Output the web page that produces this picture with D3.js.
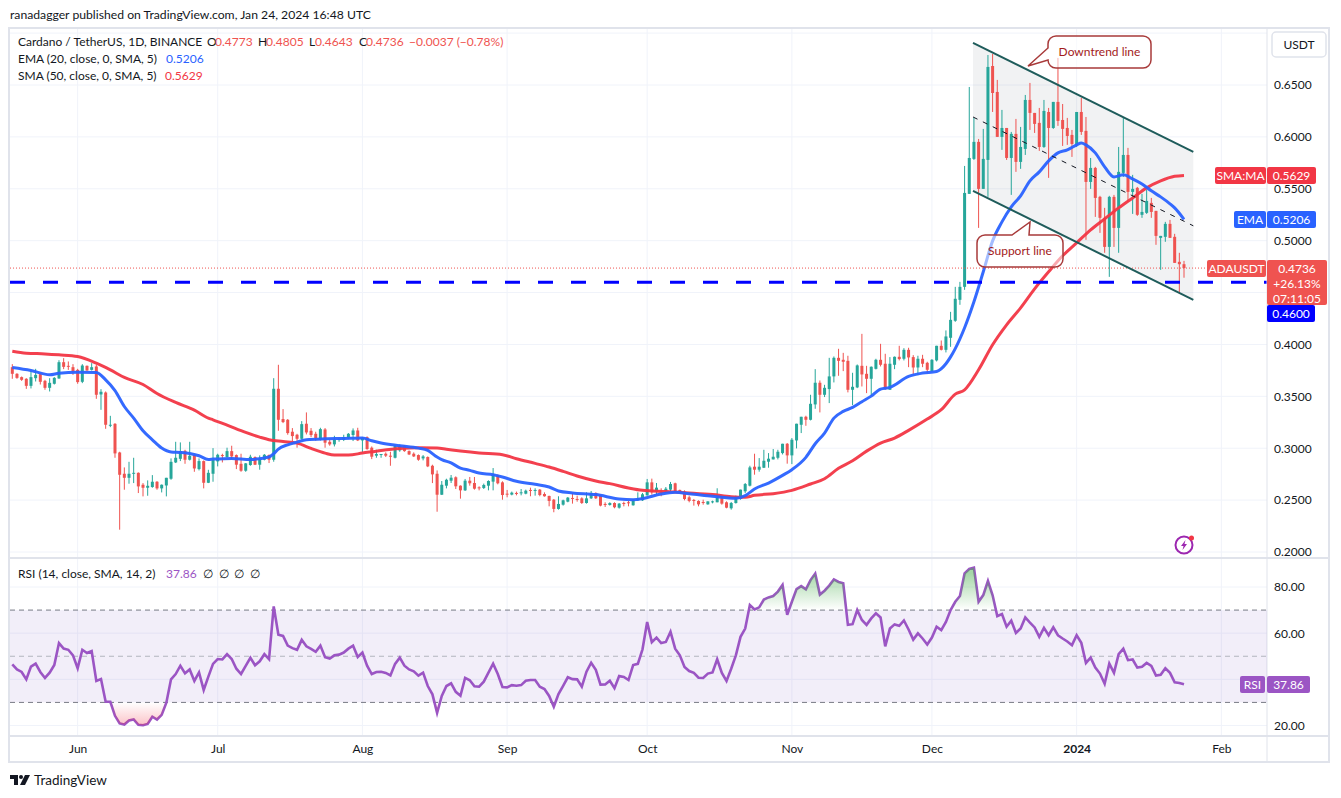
<!DOCTYPE html>
<html>
<head>
<meta charset="utf-8">
<script src="https://d3js.org/d3.v7.min.js"></script>
<style>
body { margin: 0; background: #fff; }
text { font-family: Lato, "Noto Sans", sans-serif; font-size: 12px; fill: #131722; }
</style>
</head>
<body>
<svg class="chart" width="1341" height="798"></svg>
<script>

// daily candles, May 18 2023 (number 1) to Jan 24 2024 (number 252)
const opens = [
  .3781,.3717,.3685,.3669,.3601,.3675,.3714,.3649,.3582,.3621,.3672,.3829,.3794,.3781,.3755,.3640,.3794,.3755,.3788,.3518,
  .3537,.3219,.3235,.2959,.2754,.2715,.2757,.2763,.2648,.2619,.2626,.2677,.2613,.2641,.2706,.2863,.2898,.2975,.2889,.2934,
  .2799,.2876,.2667,.2754,.2873,.2934,.2915,.2972,.2934,.2850,.2783,.2838,.2915,.2841,.2889,.2934,.2889,.3573,.3281,.3274,
  .3159,.3130,.3091,.3236,.3168,.3139,.3082,.3181,.3062,.3037,.3082,.3082,.3101,.3127,.3171,.3075,.3107,.3005,.2928,.2937,
  .2947,.2928,.2908,.2979,.3024,.2972,.2947,.2934,.2902,.2915,.2831,.2754,.2552,.2639,.2687,.2720,.2639,.2594,.2687,.2665,
  .2623,.2617,.2639,.2678,.2736,.2671,.2562,.2553,.2569,.2566,.2562,.2598,.2591,.2601,.2559,.2540,.2504,.2415,.2456,.2485,
  .2521,.2511,.2517,.2472,.2517,.2569,.2546,.2463,.2453,.2472,.2427,.2472,.2479,.2450,.2498,.2498,.2546,.2671,.2582,.2582,
  .2588,.2601,.2662,.2598,.2582,.2527,.2501,.2492,.2482,.2459,.2479,.2479,.2530,.2479,.2421,.2472,.2511,.2585,.2639,.2822,
  .2793,.2812,.2870,.2892,.2908,.2953,.3043,.2931,.3075,.3226,.3303,.3274,.3422,.3631,.3515,.3570,.3692,.3871,.3852,.3842,
  .3563,.3586,.3794,.3717,.3669,.3765,.3852,.3814,.3563,.3804,.3881,.3862,.3948,.3878,.3778,.3862,.3823,.3743,.3846,.3987,
  .3948,.4064,.4228,.4430,.4555,.5451,.5788,.5952,.5499,.5778,.6683,.6433,.6000,.6086,.5797,.6029,.5759,.5884,.6356,.6231,
  .6135,.5903,.6240,.6086,.6337,.6163,.6086,.6019,.5923,.6240,.6058,.5566,.5701,.5422,.5220,.4940,.5422,.5123,.5653,.5826,
  .5470,.5509,.5249,.5268,.5364,.5287,.5027,.5037,.5162,.5037,.4796,.4773]
const highs = [
  .3810,.3723,.3691,.3675,.3749,.3765,.3723,.3659,.3675,.3685,.3848,.3868,.3836,.3810,.3765,.3810,.3797,.3820,.3804,.3569,
  .3547,.3312,.3242,.2966,.2815,.2869,.2908,.2767,.2664,.2690,.2741,.2683,.2651,.2715,.2902,.3062,.3056,.2985,.3062,.2940,
  .2902,.2882,.2792,.3001,.2947,.2947,.3005,.3024,.2940,.2947,.2857,.2937,.2921,.2931,.2944,.2940,.3675,.3804,.3377,.3281,
  .3194,.3139,.3261,.3345,.3194,.3159,.3197,.3194,.3082,.3120,.3107,.3130,.3146,.3191,.3197,.3107,.3114,.3017,.2985,.2944,
  .2960,.2966,.3030,.3037,.3030,.2979,.2960,.2940,.2934,.2921,.2841,.2786,.2684,.2706,.2742,.2729,.2642,.2704,.2723,.2723,
  .2633,.2659,.2691,.2809,.2748,.2681,.2598,.2582,.2582,.2607,.2601,.2620,.2614,.2607,.2575,.2543,.2511,.2537,.2504,.2530,
  .2569,.2543,.2527,.2575,.2588,.2575,.2553,.2479,.2479,.2479,.2472,.2485,.2492,.2511,.2575,.2569,.2704,.2707,.2665,.2614,
  .2626,.2675,.2668,.2601,.2594,.2543,.2511,.2498,.2504,.2488,.2495,.2614,.2537,.2488,.2482,.2543,.2601,.2665,.2831,.2947,
  .2905,.2985,.2953,.2992,.2985,.3043,.3050,.3098,.3236,.3303,.3313,.3515,.3762,.3653,.3611,.3871,.3884,.3958,.3919,.3891,
  .3727,.3807,.4102,.3794,.3788,.3862,.4006,.3910,.3878,.3884,.3987,.3964,.3968,.3897,.3891,.3900,.3833,.3859,.3987,.4038,
  .4135,.4314,.4555,.4603,.5720,.6481,.6183,.5980,.6077,.6789,.6799,.6549,.6260,.6086,.6048,.6173,.6096,.6404,.6520,.6231,
  .6279,.6356,.6279,.6337,.6761,.6317,.6183,.6067,.6240,.6375,.6192,.5797,.5711,.5432,.5316,.5432,.5441,.5903,.6183,.5894,
  .5634,.5518,.5451,.5489,.5412,.5287,.5046,.5181,.5200,.5066,.4883,.4805]
const lows = [
  .3669,.3669,.3649,.3572,.3576,.3643,.3614,.3563,.3547,.3614,.3669,.3762,.3755,.3707,.3621,.3627,.3746,.3749,.3476,.3370,
  .3187,.3203,.2908,.2215,.2600,.2658,.2664,.2568,.2536,.2542,.2619,.2600,.2574,.2536,.2696,.2857,.2876,.2850,.2882,.2773,
  .2786,.2613,.2664,.2677,.2825,.2863,.2908,.2895,.2799,.2773,.2773,.2831,.2838,.2793,.2883,.2857,.2870,.3168,.3242,.3130,
  .3065,.3005,.3082,.3133,.3107,.3072,.3075,.3005,.3024,.3017,.3062,.3069,.3088,.3069,.3069,.2960,.2985,.2895,.2908,.2908,
  .2915,.2831,.2902,.2966,.2966,.2934,.2915,.2879,.2883,.2818,.2664,.2388,.2549,.2613,.2665,.2607,.2514,.2588,.2639,.2601,
  .2594,.2607,.2594,.2594,.2652,.2504,.2527,.2546,.2546,.2546,.2556,.2537,.2543,.2537,.2533,.2440,.2383,.2408,.2447,.2479,
  .2466,.2485,.2463,.2466,.2511,.2511,.2440,.2434,.2447,.2421,.2418,.2440,.2440,.2447,.2492,.2492,.2543,.2553,.2556,.2537,
  .2569,.2588,.2582,.2559,.2498,.2479,.2447,.2440,.2456,.2456,.2469,.2479,.2456,.2421,.2408,.2466,.2504,.2569,.2632,.2745,
  .2774,.2809,.2812,.2892,.2892,.2940,.2851,.2847,.2998,.3146,.3216,.3268,.3380,.3345,.3493,.3435,.3634,.3698,.3743,.3538,
  .3416,.3579,.3595,.3531,.3505,.3759,.3788,.3563,.3563,.3762,.3846,.3846,.3781,.3711,.3704,.3781,.3724,.3737,.3836,.3942,
  .3923,.3977,.4218,.4382,.4526,.5451,.5778,.5123,.5499,.5422,.6240,.6000,.5875,.5778,.5441,.5663,.5692,.5826,.6067,.6038,
  .5865,.5894,.5605,.6077,.6106,.5913,.5923,.5807,.5903,.6019,.5008,.5499,.5229,.5075,.4883,.4651,.4940,.4883,.5614,.5374,
  .5258,.5239,.5220,.5258,.5220,.4960,.4719,.4989,.5027,.4786,.4497,.4643]
const closes = [
  .3717,.3678,.3659,.3601,.3685,.3707,.3640,.3582,.3630,.3678,.3829,.3784,.3788,.3739,.3637,.3797,.3749,.3781,.3515,.3544,
  .3226,.3226,.2950,.2744,.2715,.2754,.2763,.2632,.2619,.2638,.2677,.2613,.2648,.2715,.2869,.2908,.2972,.2889,.2927,.2805,
  .2876,.2667,.2763,.2886,.2937,.2928,.2972,.2921,.2841,.2783,.2854,.2918,.2841,.2899,.2937,.2889,.3573,.3274,.3252,.3146,
  .3117,.3091,.3232,.3152,.3127,.3098,.3184,.3053,.3037,.3085,.3088,.3107,.3139,.3171,.3075,.3101,.2992,.2918,.2944,.2944,
  .2928,.2918,.3024,.3024,.2972,.2940,.2921,.2889,.2921,.2825,.2748,.2552,.2648,.2696,.2716,.2633,.2594,.2687,.2662,.2610,
  .2614,.2646,.2684,.2748,.2662,.2549,.2556,.2572,.2562,.2575,.2591,.2591,.2598,.2549,.2537,.2492,.2415,.2463,.2498,.2524,
  .2514,.2504,.2472,.2517,.2569,.2517,.2447,.2453,.2472,.2431,.2466,.2466,.2472,.2504,.2514,.2556,.2671,.2575,.2620,.2575,
  .2610,.2655,.2588,.2566,.2511,.2492,.2495,.2459,.2472,.2488,.2488,.2527,.2466,.2427,.2472,.2530,.2601,.2655,.2815,.2793,
  .2822,.2879,.2899,.2918,.2966,.3043,.2931,.3082,.3236,.3303,.3274,.3428,.3631,.3515,.3582,.3692,.3871,.3842,.3833,.3563,
  .3592,.3798,.3711,.3669,.3785,.3852,.3804,.3570,.3814,.3881,.3859,.3948,.3875,.3778,.3862,.3814,.3756,.3852,.3987,.3948,
  .4077,.4237,.4440,.4555,.5460,.5797,.5952,.5499,.5788,.6674,.6423,.6000,.6086,.5797,.6029,.5759,.5903,.6356,.6231,.6125,
  .5903,.6250,.6086,.6337,.6154,.6077,.6009,.5932,.6240,.6048,.5566,.5701,.5412,.5220,.4940,.5422,.5123,.5663,.5826,.5470,
  .5499,.5249,.5277,.5383,.5277,.5046,.5046,.5162,.5027,.4786,.4773,.4736]

// moving averages at the candle numbers next to them
const emaDays = [1,5,9,11,15,19,21,23,25,27,29,31,33,35,37,39,41,43,44,48,52,56,57,58,60,62,64,68,72,76,78,80,84,88,90,92,93,95,97,99,101,104,106,109,113,116,118,121,126,131,134,136,140,143,146,151,156,158,160,163,166,168,171,173,175,177,179,181,183,185,187,189,193,196,199,201,202,203,205,207,209,211,213,215,217,219,221,223,225,227,229,230,231,233,235,237,239,241,243,245,247,249,250,252]
const emaValues = [.3778,.3749,.3707,.3723,.3733,.3730,.3659,.3556,.3402,.3290,.3168,.3081,.3001,.2963,.2959,.2950,.2927,.2892,.2895,.2902,.2892,.2915,.2947,.2992,.3033,.3059,.3082,.3091,.3094,.3098,.3072,.3050,.3024,.3001,.2979,.2915,.2890,.2858,.2809,.2787,.2761,.2745,.2723,.2681,.2652,.2626,.2588,.2569,.2553,.2511,.2504,.2514,.2559,.2575,.2562,.2537,.2517,.2543,.2607,.2664,.2738,.2793,.2912,.3043,.3146,.3290,.3355,.3393,.3448,.3502,.3570,.3586,.3692,.3724,.3740,.3814,.3880,.3960,.4161,.4411,.4700,.4998,.5181,.5326,.5432,.5576,.5663,.5769,.5846,.5875,.5923,.5942,.5923,.5846,.5711,.5614,.5634,.5595,.5547,.5480,.5422,.5355,.5316,.5206]
const smaDays = [1,4,8,11,15,19,22,25,29,32,36,40,43,44,47,51,54,56,59,62,65,68,70,73,76,80,84,88,92,94,97,101,106,109,113,116,119,122,126,129,133,136,141,146,151,155,158,160,164,168,172,175,178,181,184,187,190,193,197,200,203,205,208,211,214,217,220,223,226,229,232,235,238,241,244,247,250,252]
const smaValues = [.3935,.3916,.3909,.3900,.3884,.3820,.3755,.3682,.3614,.3527,.3441,.3367,.3290,.3274,.3223,.3152,.3107,.3082,.3065,.3049,.2998,.2953,.2934,.2934,.2953,.2979,.2998,.3005,.3001,.2990,.2973,.2954,.2938,.2899,.2854,.2819,.2777,.2732,.2684,.2659,.2617,.2594,.2582,.2569,.2553,.2533,.2527,.2546,.2562,.2594,.2655,.2706,.2806,.2879,.2972,.3050,.3098,.3172,.3281,.3371,.3521,.3563,.3756,.3997,.4189,.4353,.4536,.4700,.4854,.4979,.5104,.5210,.5316,.5412,.5509,.5576,.5620,.5629]

const rsi = [
  46.5,44.3,43.2,40.0,45.5,46.8,43.2,40.6,42.9,46.2,55.7,53.3,52.8,50.4,44.8,52.8,51.4,52.2,39.3,40.1,
  30.3,30.3,24.2,20.9,20.4,22.2,22.6,20.3,20.1,20.7,23.8,22.6,24.6,29.9,40.0,42.3,45.9,42.6,44.3,39.3,
  43.0,35.4,41.2,46.7,48.8,48.6,50.9,48.8,44.6,42.3,45.8,49.3,46.1,47.8,50.9,48.7,71.6,59.3,58.8,54.6,
  53.5,52.8,57.1,54.3,53.2,51.9,54.6,49.6,49.0,50.4,50.7,51.6,53.3,54.6,49.7,51.6,45.9,42.3,43.2,43.3,
  42.8,41.7,46.7,49.4,45.9,44.3,43.5,41.6,42.9,37.1,33.5,25.5,32.8,37.1,38.3,34.6,32.9,40.6,39.6,37.0,
  36.8,39.0,42.9,46.8,42.3,36.7,36.5,37.5,37.2,37.5,39.4,39.7,39.7,36.8,35.8,32.8,28.1,33.6,37.2,40.9,
  40.1,40.0,36.8,43.3,47.2,44.1,37.7,37.8,39.4,36.2,41.4,41.0,39.7,46.2,46.7,53.0,64.8,56.1,58.1,55.7,
  56.2,60.6,53.3,50.4,45.4,43.6,42.8,40.7,40.6,42.5,43.0,48.7,42.8,39.3,44.6,50.4,58.4,62.0,72.2,70.3,
  71.2,74.6,75.5,76.1,78.0,80.9,68.0,73.6,79.1,80.4,79.0,83.0,85.8,76.7,78.4,80.6,83.3,82.2,81.6,63.6,
  63.9,70.0,65.7,63.6,66.4,68.6,66.8,54.3,62.0,63.8,63.2,65.5,61.6,57.2,59.9,57.7,55.1,58.1,62.8,61.3,
  64.9,70.0,73.6,76.1,85.9,87.8,88.4,73.6,76.5,82.6,76.4,67.4,68.3,62.8,65.4,60.1,62.0,66.8,64.6,62.5,
  58.4,62.3,59.1,62.5,59.1,57.7,56.4,54.8,59.1,55.8,47.1,49.4,45.1,42.5,38.1,46.8,42.8,50.9,53.3,48.3,
  48.6,45.1,45.4,47.1,45.8,41.6,42.0,44.8,42.8,38.7,38.4,37.86]

const priceTicks = [.65,.6,.55,.5,.4,.35,.3,.25,.2]
const priceGrid = [.7,.65,.6,.55,.5,.45,.4,.35,.3,.25,.2]
const rsiTicks = [80,60,40,20]
const monthDays = [15,45,76,107,137,168,198,229,260]
const monthLabels = ["Jun","Jul","Aug","Sep","Oct","Nov","Dec","2024","Feb"]

// channel drawn on the chart, candle numbers and prices
const channelDays = [206.8,254]
const channelTop = [.6905,.5855]
const channelMid = [.6192,.5143]
const channelBottom = [.5480,.4430]
const supportLevel = .46
const lastPrice = .4736

const svg = d3.select('.chart')
const left = 10, right = 1267

const x = d3.scaleLinear().domain([1,252]).range([12.3,1184])
const y = d3.scaleLinear().domain([.2,.65]).range([552,85])
const yRsi = d3.scaleLinear().domain([20,80]).range([725.5,587])

const defs = svg.append("defs")
defs.append("clipPath").attr("id","mainClip").append("rect")
  .attr("x",left).attr("y",29).attr("width",right-left).attr("height",528)
defs.append("clipPath").attr("id","rsiClip").append("rect")
  .attr("x",left).attr("y",559).attr("width",right-left).attr("height",176)
defs.append("clipPath").attr("id","overClip").append("rect")
  .attr("x",left).attr("y",559).attr("width",right-left).attr("height",yRsi(70)-559)
defs.append("clipPath").attr("id","underClip").append("rect")
  .attr("x",left).attr("y",yRsi(30)).attr("width",right-left).attr("height",735-yRsi(30))

function gradient(id, color, top, bottom, y1, y2) {
  const g = defs.append("linearGradient").attr("id",id).attr("gradientUnits","userSpaceOnUse")
    .attr("x1",0).attr("x2",0).attr("y1",y1).attr("y2",y2)
  g.append("stop").attr("offset","0%").attr("stop-color",color).attr("stop-opacity",top)
  g.append("stop").attr("offset","100%").attr("stop-color",color).attr("stop-opacity",bottom)
}
gradient("overFill","#4caf50",.5,0,yRsi(86),yRsi(70))
gradient("underFill","#f23645",0,.3,yRsi(30),yRsi(20))

// frame
svg.append("text").attr("x",10).attr("y",19).style("font-size","12.2px").text("ranadagger published on TradingView.com, Jan 24, 2024 16:48 UTC")
svg.append("rect").attr("x",9).attr("y",28).attr("width",1320).attr("height",734)
  .attr("fill","none").attr("stroke","#e0e3eb").attr("stroke-width",2)

// grid
const grid = svg.append("g").attr("stroke","#f0f3fa").attr("stroke-width",1)
grid.selectAll(".gx").data(monthDays).enter().append("line")
  .attr("x1",d => x(d)).attr("x2",d => x(d)).attr("y1",29).attr("y2",735)
grid.selectAll(".gy").data(priceGrid).enter().append("line")
  .attr("x1",left).attr("x2",right).attr("y1",d => y(d)).attr("y2",d => y(d))

// main pane
const main = svg.append("g").attr("clip-path","url(#mainClip)")

main.append("path")
  .attr("d", d3.area().x((d,i) => x(channelDays[i])).y0((d,i) => y(channelBottom[i])).y1(d => y(d))(channelTop))
  .attr("fill","#787b86").attr("opacity",.1)

main.selectAll(".wick").data(opens).enter().append("line")
  .attr("x1",(d,i) => x(i+1)).attr("x2",(d,i) => x(i+1))
  .attr("y1",(d,i) => y(highs[i])).attr("y2",(d,i) => y(lows[i]))
  .attr("stroke",(d,i) => closes[i] < d ? "#ef5350" : "#26a69a")

main.selectAll(".body").data(opens).enter().append("rect")
  .attr("x",(d,i) => x(i+1)-1.5).attr("width",3)
  .attr("y",(d,i) => y(Math.max(d,closes[i])))
  .attr("height",(d,i) => Math.max(1,Math.abs(y(d)-y(closes[i]))))
  .attr("fill",(d,i) => closes[i] < d ? "#ef5350" : "#26a69a")

const line = d3.line().curve(d3.curveMonotoneX)
main.append("path")
  .attr("d",line(smaDays.map((d,i) => [x(d),y(smaValues[i])])))
  .attr("fill","none").attr("stroke","#f23645").attr("stroke-width",3).attr("opacity",.95)
main.append("path")
  .attr("d",line(emaDays.map((d,i) => [x(d),y(emaValues[i])])))
  .attr("fill","none").attr("stroke","#2962ff").attr("stroke-width",3).attr("opacity",.95)

// last price and support level
main.append("line").attr("x1",left).attr("x2",right).attr("y1",y(lastPrice)).attr("y2",y(lastPrice))
  .attr("stroke","#ef5350").attr("stroke-dasharray","1 2")
main.append("line").attr("x1",left).attr("x2",right).attr("y1",y(supportLevel)).attr("y2",y(supportLevel))
  .attr("stroke","#0000ff").attr("stroke-width",3).attr("stroke-dasharray","15 18")

// channel lines
for (const edge of [channelTop,channelBottom]) {
  main.append("line")
    .attr("x1",x(channelDays[0])).attr("x2",x(channelDays[1]))
    .attr("y1",y(edge[0])).attr("y2",y(edge[1]))
    .attr("stroke","#1f5c5b").attr("stroke-width",2)
}
main.append("line")
  .attr("x1",x(channelDays[0])).attr("x2",x(channelDays[1]))
  .attr("y1",y(channelMid[0])).attr("y2",y(channelMid[1]))
  .attr("stroke","#131722").attr("stroke-dasharray","5 6")

// callouts
function callout(bx, by, w, h, tail, label) {
  const r = 8
  const p = d3.path()
  p.moveTo(bx+r,by)
  if (tail.side === "top") { p.lineTo(tail.a,by); p.lineTo(tail.tx,tail.ty); p.lineTo(tail.b,by) }
  p.lineTo(bx+w-r,by); p.arcTo(bx+w,by,bx+w,by+r,r)
  p.lineTo(bx+w,by+h-r); p.arcTo(bx+w,by+h,bx+w-r,by+h,r)
  p.lineTo(bx+r,by+h); p.arcTo(bx,by+h,bx,by+h-r,r)
  if (tail.side === "left") { p.lineTo(bx,tail.b); p.lineTo(tail.tx,tail.ty); p.lineTo(bx,tail.a) }
  p.lineTo(bx,by+r); p.arcTo(bx,by,bx+r,by,r)
  p.closePath()
  svg.append("path").attr("d",p.toString())
    .attr("fill","#fff").attr("fill-opacity",.55)
    .attr("stroke","#a83a3a").attr("stroke-width",1.5)
  svg.append("text").attr("x",bx+w/2).attr("y",by+h/2+4).attr("text-anchor","middle")
    .style("fill","#a31b1b").text(label)
}
callout(1048,36,103,32,{side:"left",tx:1028,ty:66,a:48,b:60},"Downtrend line")
callout(977,235,86,32,{side:"top",tx:1030,ty:222,a:1012,b:1029},"Support line")

// lightning icon
const icon = svg.append("g").attr("transform","translate(1184,545)")
icon.append("circle").attr("r",8.5).attr("fill","#fff").attr("stroke","#9c27b0").attr("stroke-width",2)
icon.append("path").attr("d","M1.5,-5 L-3,1 L-0.5,1 L-1.5,5 L3,-1 L0.5,-1 Z").attr("fill","#9c27b0")
icon.append("circle").attr("cx",7.5).attr("cy",-7).attr("r",2.5).attr("fill","#f23645")

// rsi pane
svg.append("line").attr("x1",left-1).attr("x2",1329).attr("y1",558).attr("y2",558).attr("stroke","#e0e3eb").attr("stroke-width",2)
svg.append("line").attr("x1",left-1).attr("x2",1329).attr("y1",736).attr("y2",736).attr("stroke","#e0e3eb").attr("stroke-width",2)
svg.append("line").attr("x1",right).attr("x2",right).attr("y1",29).attr("y2",762).attr("stroke","#e0e3eb")

grid.selectAll(".gr").data(rsiTicks).enter().append("line")
  .attr("x1",left).attr("x2",right).attr("y1",d => yRsi(d)).attr("y2",d => yRsi(d))

const pane = svg.append("g").attr("clip-path","url(#rsiClip)")
pane.append("rect").attr("x",left).attr("width",right-left)
  .attr("y",yRsi(70)).attr("height",yRsi(30)-yRsi(70))
  .attr("fill","#7e57c2").attr("opacity",.1)

const rsiArea = base => d3.area().x((d,i) => x(i+1)).y0(yRsi(base)).y1(d => yRsi(d))(rsi)
svg.append("g").attr("clip-path","url(#overClip)").append("path").attr("d",rsiArea(70)).attr("fill","url(#overFill)")
svg.append("g").attr("clip-path","url(#underClip)").append("path").attr("d",rsiArea(30)).attr("fill","url(#underFill)")

pane.selectAll(".lvl").data([70,50,30]).enter().append("line")
  .attr("x1",left).attr("x2",right).attr("y1",d => yRsi(d)).attr("y2",d => yRsi(d))
  .attr("stroke",d => d === 50 ? "#b2b5be" : "#787b86").attr("stroke-dasharray","5 4")

pane.append("path")
  .attr("d",d3.line().x((d,i) => x(i+1)).y(d => yRsi(d))(rsi))
  .attr("fill","none").attr("stroke","#9b55c4").attr("stroke-width",2.6)

// axes
const priceAxis = svg.append("g").attr("transform",`translate(${right},0)`)
  .call(d3.axisRight(y).tickValues(priceTicks).tickSize(0).tickPadding(7).tickFormat(d3.format(".4f")))
const rsiAxis = svg.append("g").attr("transform",`translate(${right},0)`)
  .call(d3.axisRight(yRsi).tickValues(rsiTicks).tickSize(0).tickPadding(7).tickFormat(d3.format(".2f")))
const timeAxis = svg.append("g").attr("transform","translate(0,736)")
  .call(d3.axisBottom(x).tickValues(monthDays).tickSize(0).tickPadding(8).tickFormat((d,i) => monthLabels[i]))
for (const a of [priceAxis,rsiAxis,timeAxis]) {
  a.select(".domain").remove()
  a.selectAll("text").style("font-family","Lato").style("font-size","12px").style("fill","#131722")
}
timeAxis.selectAll("text").filter(d => d === 229).style("font-weight","bold")

// legends
const red = "#ef5350"
function label(tx, ty, str, color) {
  const t = svg.append("text").attr("x",tx).attr("y",ty).text(str)
  if (color) t.style("fill",color)
  return t
}
label(18,46,"Cardano / TetherUS, 1D, BINANCE")
label(207,46,"O"); label(215,46,"0.4773",red)
label(258,46,"H"); label(266,46,"0.4805",red)
label(309,46,"L"); label(315,46,"0.4643",red)
label(359,46,"C"); label(366,46,"0.4736",red)
label(409,46,"−0.0037 (−0.78%)",red)
label(18,63,"EMA (20, close, 0, SMA, 5)"); label(166,63,"0.5206","#2962ff")
label(18,80,"SMA (50, close, 0, SMA, 5)"); label(165,80,"0.5629","#f23645")
label(18,578,"RSI (14, close, SMA, 14, 2)"); label(166,578,"37.86","#9b55c4")
label(203,578,"∅"); label(219,578,"∅"); label(234,578,"∅"); label(250,578,"∅")

// currency button
svg.append("rect").attr("x",1272).attr("y",32).attr("width",54).attr("height",25).attr("rx",4)
  .attr("fill","#fff").attr("stroke","#e0e3eb").attr("stroke-width",1.5)
svg.append("text").attr("x",1299).attr("y",49).attr("text-anchor","middle").text("USDT")

// price tags
function tag(tx, ty, w, h, color, lines) {
  svg.append("rect").attr("x",tx).attr("y",ty).attr("width",w).attr("height",h).attr("rx",2).attr("fill",color)
  lines.forEach((s,i) => {
    svg.append("text").attr("x",tx+w/2).attr("y",ty+12.5+i*15).attr("text-anchor","middle")
      .style("fill","#fff").text(s)
  })
}
tag(1215,167,51,17,"#f23645",["SMA:MA"])
tag(1267,167,49,17,"#f23645",["0.5629"])
tag(1234,211,32,17,"#2962ff",["EMA"])
tag(1267,211,49,17,"#2962ff",["0.5206"])
tag(1207,260,59,17,"#ef5350",["ADAUSDT"])
tag(1267,260,60,45,"#ef5350",["0.4736","+26.13%","07:11:05"])
tag(1267,305,48,17,"#0000ff",["0.4600"])
tag(1240,676,25,17,"#9b55c4",["RSI"])
tag(1267,676,43,17,"#9b55c4",["37.86"])

// footer logo
const logo = svg.append("g").attr("transform","translate(10,775)").attr("fill","#131722")
logo.append("path").attr("d","M0,0 H8 V10 H4 V4 H0 Z")
logo.append("circle").attr("cx",11).attr("cy",2).attr("r",2)
logo.append("path").attr("d","M15,0 H20 L15,10 H10 Z")
svg.append("text").attr("x",34).attr("y",785).style("font-size","13.5px").text("TradingView")

</script>
</body>
</html>
